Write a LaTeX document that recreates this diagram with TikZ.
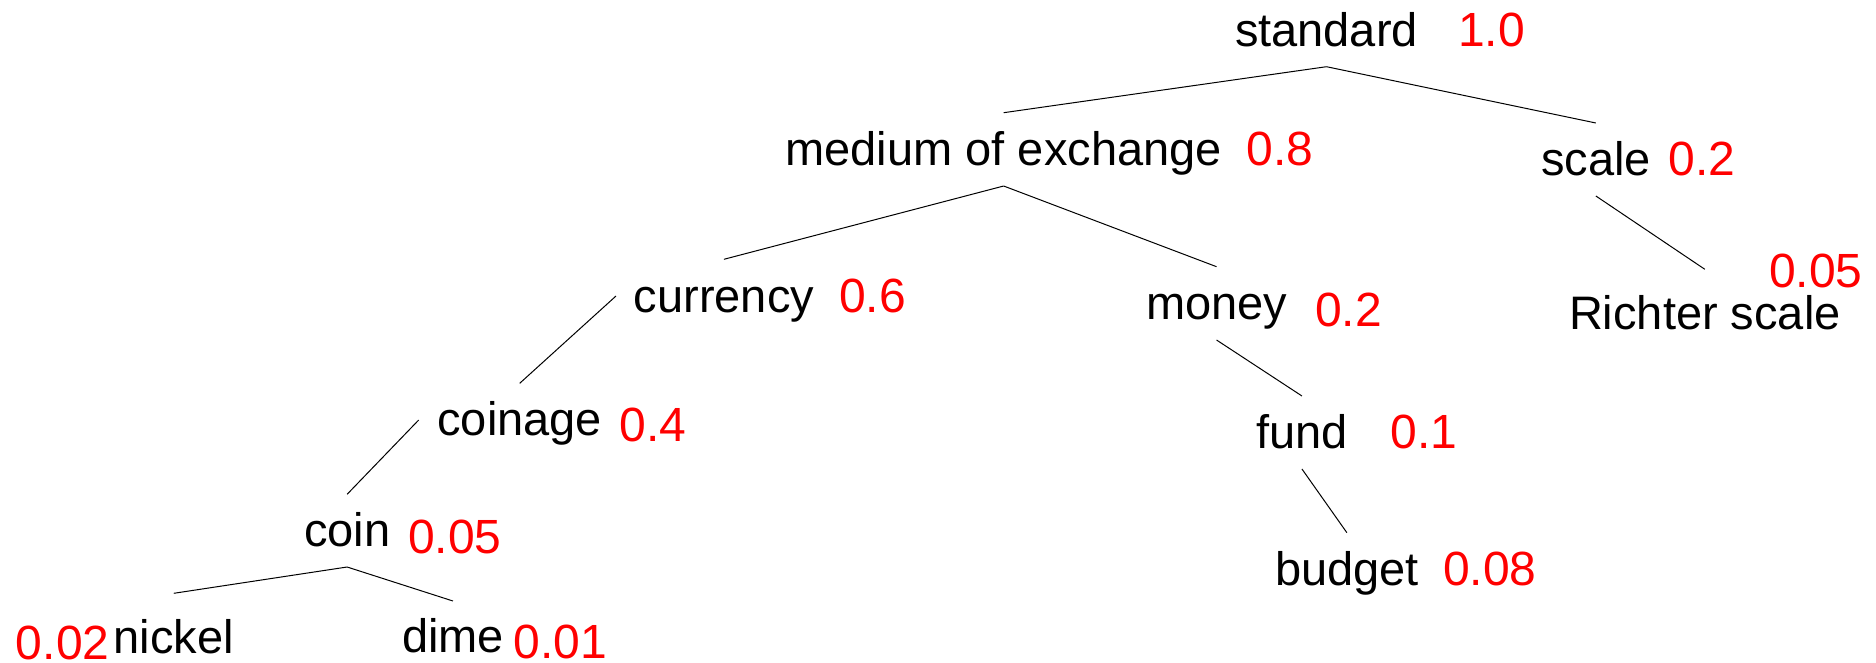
\documentclass[tikz,border=0pt]{standalone}
\usepackage{fontspec}
\setmainfont{Liberation Sans}
\usetikzlibrary{calc}
\begin{document}
\begin{tikzpicture}[x=1pt,y=-1pt,
  word/.style={inner sep=0pt, outer sep=0pt, anchor=base west, font=\fontsize{47}{56}\selectfont},
  score/.style={word, text=red, font=\fontsize{48}{56}\selectfont},
  edge/.style={draw=black, line width=1pt}]
\useasboundingbox (0,0) rectangle (1876,663);

% words
\node[word] (standard) at (1235,46.7) {standard};
\node[word] (medium)   at (785.5,165.7) {medium of exchange};
\node[word] (scale)    at (1541,175.7) {scale};
\node[word] (currency) at (633.8,312.3) {currency};
\node[word] (money)    at (1146,319) {money};
\node[word] (richter)  at (1569,329) {Richter scale};
\node[word] (coinage)  at (437.4,435.7) {coinage};
\node[word] (fund)     at (1256.2,448.5) {fund};
\node[word] (coin)     at (304,546.3) {coin};
\node[word] (budget)   at (1275,585.5) {budget};
\node[word] (nickel)   at (113.7,653.3) {nickel};
\node[word] (dime)     at (402,652.7) {dime};

% scores
\node[score] (sStandard) at (1458,46.7) {1.0};
\node[score] (sMedium)   at (1246.5,166) {0.8};
\node[score] (sScale)    at (1668.4,175.7) {0.2};
\node[score] (sCurrency) at (839,312) {0.6};
\node[score] (sMoney)    at (1315,326) {0.2};
\node[score] (sRichter)  at (1769,287.3) {0.05};
\node[score] (sCoinage)  at (619.7,441) {0.4};
\node[score] (sFund)     at (1390.7,448) {0.1};
\node[score] (sCoin)     at (408,553) {0.05};
\node[score] (sBudget)   at (1443,585) {0.08};
\node[score] (sNickel)   at (16,659.3) {0.02};
\node[score] (sDime)     at (513.6,658) {0.01};

% connectors
\draw[edge] ($(standard.base)+(0,20)$) -- ($(medium.base)+(0,-53)$);
\draw[edge] ($(standard.base)+(0,20)$) -- ($(scale.base)+(0,-52.7)$);
\draw[edge] ($(medium.base)+(0,20.3)$) -- ($(currency.base)+(0,-53)$);
\draw[edge] ($(medium.base)+(0,20.3)$) -- ($(money.base)+(0,-52.3)$);
\draw[edge] ($(scale.base)+(0,20.3)$) -- ($(richter.base)+(0,-59.7)$);
\draw[edge] ($(currency.base west)+(-17.8,-16.3)$) -- ($(coinage.base)+(0,-52.4)$);
\draw[edge] ($(money.base)+(0,21)$) -- ($(fund.base)+(0,-52.5)$);
\draw[edge] ($(coinage.base west)+(-18.7,-15.7)$) -- ($(coin.base)+(0,-52)$);
\draw[edge] ($(fund.base)+(0,20.5)$) -- ($(budget.base)+(0,-52.8)$);
\draw[edge] ($(coin.base)+(0,20.7)$) -- ($(nickel.base)+(0,-60)$);
\draw[edge] ($(coin.base)+(0,20.7)$) -- ($(dime.base)+(0,-51.7)$);
\end{tikzpicture}
\end{document}
